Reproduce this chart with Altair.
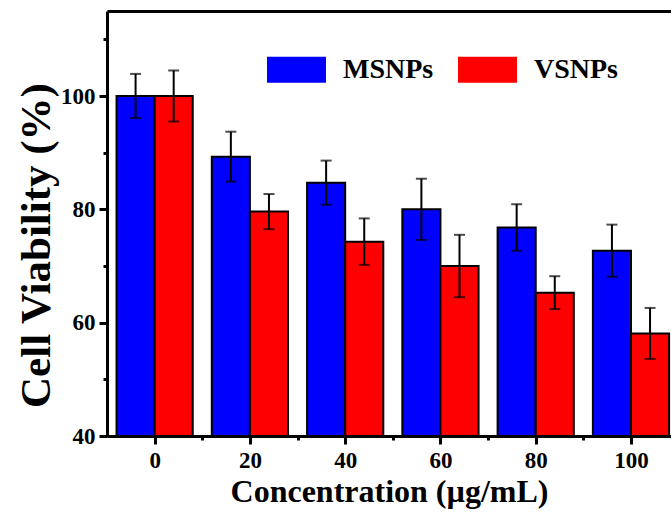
import altair as alt
import pandas as pd

# Cell viability (%) at each nanoparticle concentration (µg/mL)
conc = [0, 20, 40, 60, 80, 100]
msnps = [100.0, 89.3, 84.7, 80.0, 76.8, 72.7]
msnps_err = [3.9, 4.4, 3.9, 5.4, 4.1, 4.6]
vsnps = [100.0, 79.6, 74.3, 70.0, 65.3, 58.1]
vsnps_err = [4.5, 3.1, 4.1, 5.5, 2.9, 4.5]

series = ["MSNPs", "VSNPs"]
colors = ["#0000FF", "#FF0000"]

major_x = [0, 20, 40, 60, 80, 100]
minor_x = [10, 30, 50, 70, 90]
major_y = [40, 60, 80, 100]
minor_y = [50, 70, 90, 110]

BAR_W = 8  # width of one bar, in concentration units
FONT = "Liberation Serif"

rows = []
for name, vals, errs in [("MSNPs", msnps, msnps_err), ("VSNPs", vsnps, vsnps_err)]:
    for c, v, e in zip(conc, vals, errs):
        rows.append({"conc": c, "series": name, "value": v, "err": e})
df = pd.DataFrame(rows)

xscale = alt.Scale(domain=[-10, 108.4], nice=False, zero=False)
yscale = alt.Scale(domain=[40, 115], nice=False, zero=False)

base = alt.Chart(df).transform_calculate(
    x0=f"datum.series == 'MSNPs' ? datum.conc - {BAR_W} : datum.conc",
).transform_calculate(
    x1=f"datum.x0 + {BAR_W}",
    xc=f"datum.x0 + {BAR_W / 2}",
    lo="datum.value - datum.err",
    hi="datum.value + datum.err",
)

bars = base.mark_bar(stroke="black", strokeWidth=2).encode(
    x=alt.X(
        "x0:Q",
        scale=xscale,
        axis=alt.Axis(
            orient="bottom",
            values=major_x,
            tickSize=8,
            labelPadding=5,
            title="Concentration (µg/mL)",
            titleFontSize=32,
            titlePadding=4,
        ),
    ),
    x2="x1:Q",
    y=alt.Y(
        "value:Q",
        scale=yscale,
        axis=alt.Axis(
            orient="left",
            values=major_y,
            tickSize=8,
            labelPadding=4,
            title="Cell Viability (%)",
            titleFontSize=43,
            titlePadding=2,
            titleY=234,
        ),
    ),
    y2=alt.datum(40),
    color=alt.Color(
        "series:N",
        scale=alt.Scale(domain=series, range=colors),
        legend=alt.Legend(
            orient="none",
            legendX=160,
            legendY=29,
            direction="horizontal",
            title=None,
            symbolType="M-1,-0.44L1,-0.44L1,0.44L-1,0.44Z",
            symbolSize=3481,
            symbolStrokeWidth=0,
            symbolOpacity=1,
            labelFont=FONT,
            labelFontWeight="bold",
            labelFontSize=28,
            labelColor="black",
            labelOffset=17,
            columnPadding=24,
            labelLimit=0,
        ),
    ),
)

err_lines = base.mark_rule(color="black", strokeWidth=2).encode(
    x=alt.X("xc:Q", scale=xscale, axis=None),
    y=alt.Y("lo:Q", scale=yscale, axis=None),
    y2="hi:Q",
)

cap_hi = base.mark_tick(color="black", orient="horizontal", size=11, thickness=2).encode(
    x=alt.X("xc:Q", scale=xscale, axis=None),
    y=alt.Y("hi:Q", scale=yscale, axis=None),
)

cap_lo = base.mark_tick(color="black", orient="horizontal", size=11, thickness=2).encode(
    x=alt.X("xc:Q", scale=xscale, axis=None),
    y=alt.Y("lo:Q", scale=yscale, axis=None),
)

# short minor ticks between the labelled ones
minor = base.mark_point(opacity=0).encode(
    x=alt.X(
        "xc:Q",
        scale=xscale,
        axis=alt.Axis(orient="bottom", values=minor_x, labels=False, domain=False,
                      tickSize=4, title=None),
    ),
    y=alt.Y(
        "value:Q",
        scale=yscale,
        axis=alt.Axis(orient="left", values=minor_y, labels=False, domain=False,
                      tickSize=4, title=None),
    ),
)

# top frame line
top = base.mark_point(opacity=0).encode(
    x=alt.X(
        "xc:Q",
        scale=xscale,
        axis=alt.Axis(orient="top", labels=False, ticks=False, domain=True, title=None),
    ),
    y=alt.Y("value:Q", scale=yscale, axis=None),
)

chart = (
    alt.layer(bars, err_lines, cap_hi, cap_lo, minor, top)
    .resolve_axis(x="independent", y="independent")
    .properties(
        width=564,
        height=425,
        autosize=alt.AutoSizeParams(type="none"),
        padding={"left": 107, "top": 11, "right": 0, "bottom": 76},
        background="white",
    )
    .configure_view(stroke=None)
    .configure_axis(
        grid=False,
        labelFont=FONT,
        labelFontWeight="bold",
        labelFontSize=23,
        labelColor="black",
        titleFont=FONT,
        titleFontWeight="bold",
        titleColor="black",
        domainColor="black",
        domainWidth=3,
        tickColor="black",
        tickWidth=3,
    )
)

chart.save("out.html", embed_options={"renderer": "svg", "actions": False})
